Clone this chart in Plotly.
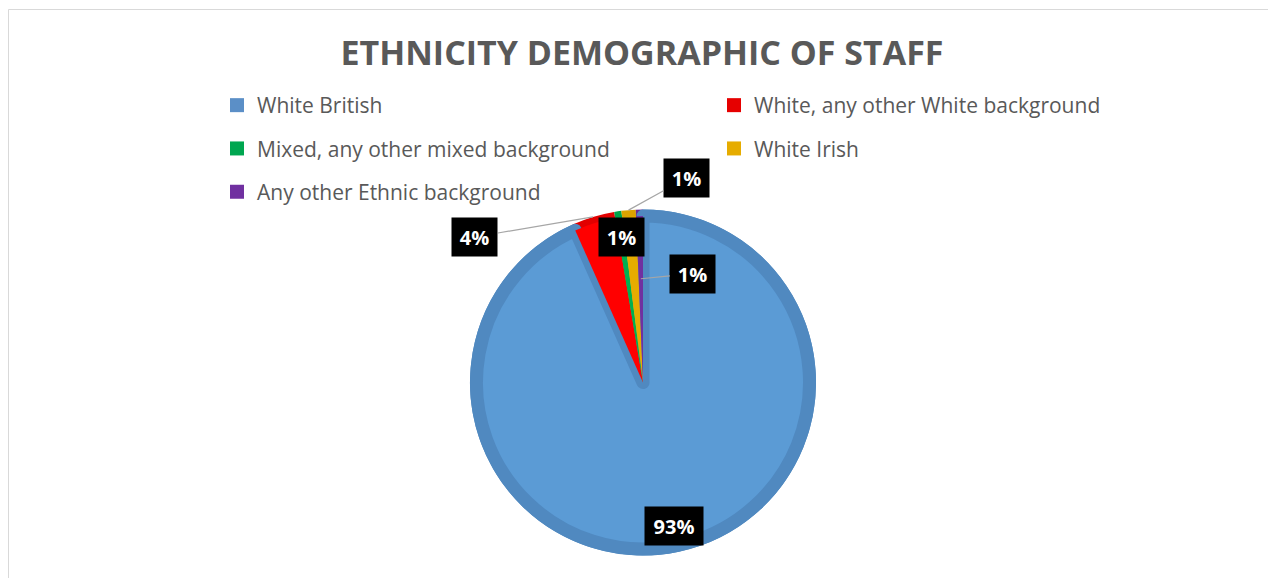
import math
import plotly.graph_objects as go

# ---------------- data ----------------
categories = [
    "White British",
    "White, any other White background",
    "Mixed, any other mixed background",
    "White Irish",
    "Any other Ethnic background",
]
staff_counts = [140, 6, 1, 2, 1]

# ---------------- styles ----------------
light_colors = ["#5B9BD5", "#FF0000", "#00B050", "#E6AC00", "#7030A0"]
dark_colors = ["#5089C0", "#E20000", "#00A24A", "#DCA300", "#682C96"]
legend_colors = ["#5B8FC7", "#E60000", "#00A650", "#E6AC00", "#7030A0"]
legend_of_item = ["legend", "legend2", "legend", "legend2", "legend"]

label_radius = [0.85, 1.0, 0.85, 1.0, 0.6]
label_offset = [(0, 0), (-118, 20), (0, 0), (58, -32), (52, -5)]

W, H = 1268, 578
CX, CY, R = 643, 382.5, 173
EDGE = 13  # stroke width of the bevel edge on the large slice
TEXT = "#595959"
FONT = "Open Sans"


def domain(radius):
    return dict(
        x=[(CX - radius) / W, (CX + radius) / W],
        y=[(H - CY - radius) / H, (H - CY + radius) / H],
    )


fig = go.Figure()

# outer (bevel edge) pie
fig.add_trace(go.Pie(
    labels=categories, values=staff_counts, sort=False, direction="clockwise",
    marker=dict(colors=dark_colors, line=dict(width=0)),
    textinfo="none", hoverinfo="label+percent", showlegend=False,
    domain=domain(R),
))
# inner (face) pie
fig.add_trace(go.Pie(
    labels=categories, values=staff_counts, sort=False, direction="clockwise",
    marker=dict(colors=light_colors,
                line=dict(color=[dark_colors[0], light_colors[1], light_colors[2],
                                 light_colors[3], light_colors[4]],
                          width=[EDGE, 0, 0, 0, 0])),
    textinfo="none", hoverinfo="label+percent", showlegend=False,
    domain=domain(R - EDGE / 2),
))

# legend entries
for i, name in enumerate(categories):
    fig.add_trace(go.Scatter(
        x=[None], y=[None], mode="markers", name=name,
        legendgroup=name, legend=legend_of_item[i],
        marker=dict(symbol="square", size=14, color=legend_colors[i], line=dict(width=0)),
    ))

# data labels
total = sum(staff_counts)
cum = 0
annotations = []
for i, v in enumerate(staff_counts):
    mid = (cum + v / 2) / total * 2 * math.pi
    cum += v
    f = label_radius[i]
    px = CX + R * f * math.sin(mid)
    py = CY - R * f * math.cos(mid)
    txt = f"{round(100 * v / total)}%"
    ax, ay = label_offset[i]
    arrow = not (ax == 0 and ay == 0)
    annotations.append(dict(
        x=px / W, y=1 - py / H, xref="paper", yref="paper",
        text=f"<b>{txt}</b>", showarrow=arrow, ax=ax, ay=ay,
        arrowhead=0, arrowwidth=1.2, arrowcolor="#A6A6A6", standoff=0,
        font=dict(family=FONT, size=20, color="white"),
        bgcolor="black", width=45 + 13 * (len(txt) - 2), height=38,
        borderpad=0, xanchor="center", yanchor="middle",
    ))

legend_common = dict(
    orientation="v", xanchor="left", yanchor="top",
    font=dict(family=FONT, size=21, color=TEXT),
    tracegroupgap=13, bgcolor="rgba(0,0,0,0)", borderwidth=0,
)

fig.update_layout(
    width=W, height=H,
    margin=dict(l=0, r=0, t=0, b=0),
    paper_bgcolor="white", plot_bgcolor="white",
    title=dict(text="<b>ETHNICITY DEMOGRAPHIC OF STAFF</b>",
               font=dict(family=FONT, size=34, color=TEXT),
               x=642 / W, xanchor="center", y=1 - 53 / H, yanchor="middle"),
    xaxis=dict(visible=False), yaxis=dict(visible=False),
    legend=dict(x=217 / W, y=1 - 85 / H, **legend_common),
    legend2=dict(x=(217 + 497) / W, y=1 - 85 / H, **legend_common),
    annotations=annotations,
    shapes=[dict(type="rect", xref="paper", yref="paper",
                 x0=8.5 / W, x1=1.02, y0=-0.02, y1=1 - 9.5 / H,
                 line=dict(color="#D9D9D9", width=1), layer="below")],
)

fig.write_html("out.html")
